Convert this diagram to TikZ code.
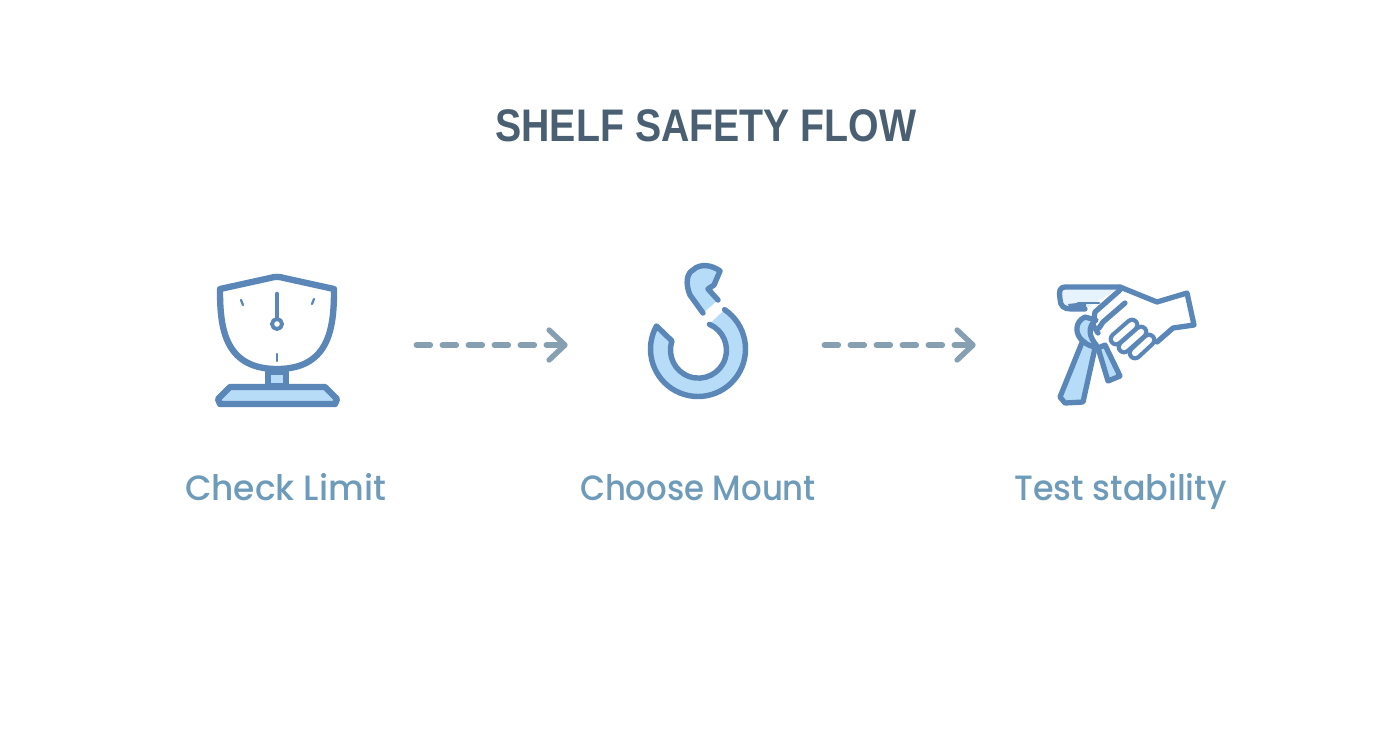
\documentclass[tikz,border=0pt]{standalone}
\usepackage{fontspec}
\setmainfont{Poppins}[UprightFont=* Medium]
\newfontfamily\titlefont{Liberation Sans}
\usetikzlibrary{arrows.meta}
\definecolor{iconblue}{HTML}{5B86B8}
\definecolor{iconfill}{HTML}{B7DCF8}
\definecolor{arrowgray}{HTML}{86A0B1}
\definecolor{titlegray}{HTML}{4A6072}
\definecolor{labelblue}{HTML}{6F9BBA}
\tikzset{iconline/.style={draw=iconblue,line width=3.6pt,line join=round,line cap=round},
    hookline/.style={iconline,line width=3.1pt},
    handline/.style={iconline,line width=3pt},
    thinline/.style={draw=iconblue,line width=1.3pt,line cap=round},
    softfill/.style={fill=iconfill},
    fingerline/.style={draw=iconblue,line width=2.4pt,double=white,double distance=3.6pt,line cap=round},
    iconslot/.style={inner sep=0,minimum height=40pt},
    steplabel/.style={anchor=base,text=labelblue,font=\fontsize{20}{24}\selectfont},
    flowarrow/.style={draw=arrowgray,line width=3.1pt,line cap=round,dash pattern=on 8pt off 6.8pt,
        -{Straight Barb[length=9pt,width=17pt,round]}}
}
\begin{document}
\begin{tikzpicture}[x=0.02cm,y=-0.02cm]
\useasboundingbox (0,0) rectangle (1392,752);

\node (titleText) at (706,126) [xscale=0.86,text=titlegray,font=\titlefont\bfseries\fontsize{26}{30}\selectfont] {SHELF SAFETY FLOW};

\node (checkIcon) at (277,345) [iconslot,minimum width=5.56cm] {};
\node (hookIcon) at (696,345) [iconslot,minimum width=5.12cm] {};
\node (handIcon) at (1125,345) [iconslot,minimum width=5.96cm] {};

\node (checkLabel) at (285.5,500) [steplabel,xscale=0.98] {Check Limit};
\node (mountLabel) at (698,500) [steplabel,xscale=0.92] {Choose Mount};
\node (testLabel) at (1120.5,500) [steplabel,xscale=0.95] {Test stability};

\draw [flowarrow] (checkIcon) -- (hookIcon);
\draw [flowarrow] (hookIcon) -- (handIcon);

% scale
\draw [iconline,softfill] (268,372) rectangle (286,386);
\draw [iconline,fill=white] (220,289) -- (270,278) .. controls (275,276.5) and (279,276.5) .. (284,278)
    -- (334,289) .. controls (334,325) and (331,369) .. (277,369) .. controls (223,369) and (220,325) .. (220,289) -- cycle;
\draw [iconline,softfill] (230,387) -- (325,387) -- (337,399) -- (335,404) -- (220,404) -- (218,399) -- cycle;
\draw [iconline,line width=2.6pt] (277,294) -- (277,317);
\draw [iconline,line width=2.2pt,fill=white] (277,324) circle (5);
\draw [thinline] (241,300) -- (243,305);
\draw [thinline] (314,299) -- (312,304);
\draw [thinline] (277,354) -- (277,361);

% hook
\fill [softfill] (698,349) ++(-56:47.5) arc (-56:209:47.5) -- (672,341) arc (199:-67:27.5) -- cycle;
\draw [hookline] (698,349) ++(-56:47.5) arc (-56:209:47.5) -- (672,341) arc (199:-67:28);
\fill [softfill] (703,313) -- (718,300) -- (708,288) -- (720,272) .. controls (712,265) and (700,263) .. (693,272)
    .. controls (685,283) and (690,297) .. cycle;
\draw [hookline] (703,313) -- (690,295) .. controls (685,283) and (687,273) .. (693,270)
    .. controls (700,263) and (712,265) .. (720,271) -- (714,285) -- (708,289) -- (718,300);

% shelf
\draw [handline,fill=iconfill!35] (1120,287) -- (1066,287) .. controls (1059,287) and (1059,291) .. (1060,299)
    .. controls (1060,306) and (1064,309) .. (1071,309) -- (1085,309);
\draw [handline,line width=1.6pt] (1078,303) -- (1099,303);
\fill [iconblue] (1068,304) -- (1086,302) -- (1086,310) -- (1070,310) -- cycle;

% tool
\draw [handline,softfill] (1098,348) -- (1108,381) -- (1120,376) -- (1105,345) -- cycle;
\draw [handline,softfill] (1083,340) -- (1060,397) -- (1065,403) -- (1083,402) -- (1095,348) -- cycle;
\draw [handline,softfill] (1085,317) .. controls (1074,322) and (1075,335) .. (1083,341)
    .. controls (1088,346) and (1093,347) .. (1097,346) .. controls (1089,337) and (1087,327) .. (1096,320) -- cycle;

% hand
\draw [handline] (1098,333) -- (1093,325) -- (1095,312) -- (1120,290) -- (1120,287) -- (1157,302)
    -- (1187,293) -- (1194,325) -- (1173,328) -- (1157,342);
\draw [handline] (1125,303) -- (1103,322) -- (1099,328);
\draw [fingerline] (1132,325) -- (1116,339);
\draw [fingerline] (1141,332) -- (1124,347);
\draw [fingerline] (1149,340) -- (1135,353);

\end{tikzpicture}
\end{document}
